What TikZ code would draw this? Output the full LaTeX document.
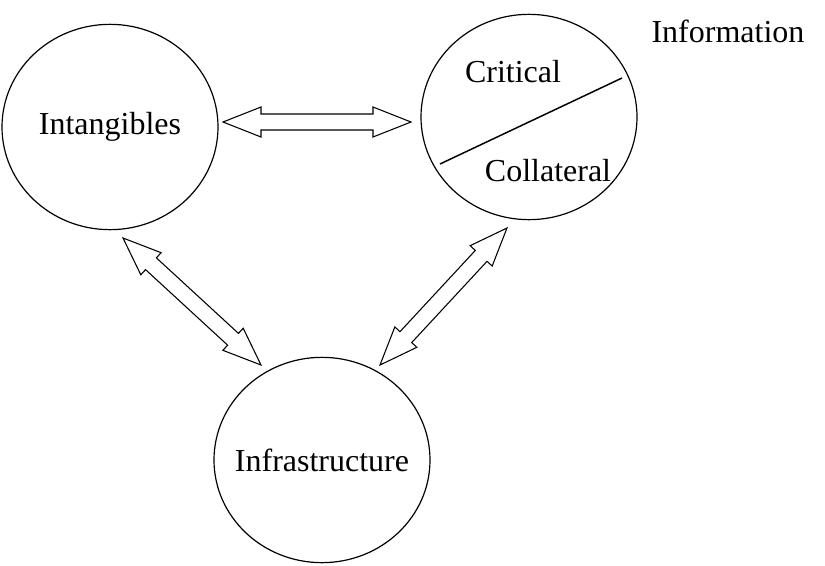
\documentclass[tikz,border=0pt]{standalone}
\usepackage{fontspec}
\setmainfont{Liberation Serif}
\usetikzlibrary{shapes.geometric,calc}

% hollow two-headed arrow between two named coordinates
\newcommand\dblarrow[2]{%
  \coordinate (h1) at ($(#1)!28.5pt!(#2)$);
  \coordinate (h2) at ($(#2)!28.5pt!(#1)$);
  \draw[hollow] (#1) -- ($(h1)!11.25pt!90:(#2)$) -- ($(h1)!6pt!90:(#2)$)
    -- ($(h2)!6pt!-90:(#1)$) -- ($(h2)!11.25pt!-90:(#1)$) -- (#2)
    -- ($(h2)!11.25pt!90:(#1)$) -- ($(h2)!6pt!90:(#1)$)
    -- ($(h1)!6pt!-90:(#2)$) -- ($(h1)!11.25pt!-90:(#2)$) -- cycle;}

\begin{document}
\begin{tikzpicture}[
  x=0.75pt, y=-0.75pt,
  font=\fontsize{24}{28}\selectfont,
  bubble/.style={
    ellipse, draw=black, line width=0.9pt, fill=white, inner sep=0pt,
    minimum width=162pt, minimum height=154pt,
  },
  hollow/.style={draw=black, line width=0.8pt, fill=white, line join=miter},
  divider/.style={draw=black, line width=1.1pt},
]
\useasboundingbox (0,0) rectangle (825,565);

% Bubbles
\node[bubble, label=center:{Intangibles}]    (intang) at (110,127) {};
\node[bubble]                                (info)   at (529,117) {};
\node[bubble, label=center:{Infrastructure}] (infra)  at (322,460) {};

% Information split
\draw[divider] ([shift={(-89,47)}]info.center) -- ([shift={(93,-39)}]info.center);
\node (crit) at (513,72)  {Critical};
\node (coll) at (548,171) {Collateral};
\node (infolbl) at (728,31) {Information};

% Arrow end points
\coordinate (ia) at (223,122);
\coordinate (fa) at (411,122);
\coordinate (ib) at (123,238);
\coordinate (rb) at (261,365);
\coordinate (fb) at (507,228);
\coordinate (rc) at (380,365);

% Two-way links
\dblarrow{ia}{fa}
\dblarrow{ib}{rb}
\dblarrow{fb}{rc}

\end{tikzpicture}
\end{document}
